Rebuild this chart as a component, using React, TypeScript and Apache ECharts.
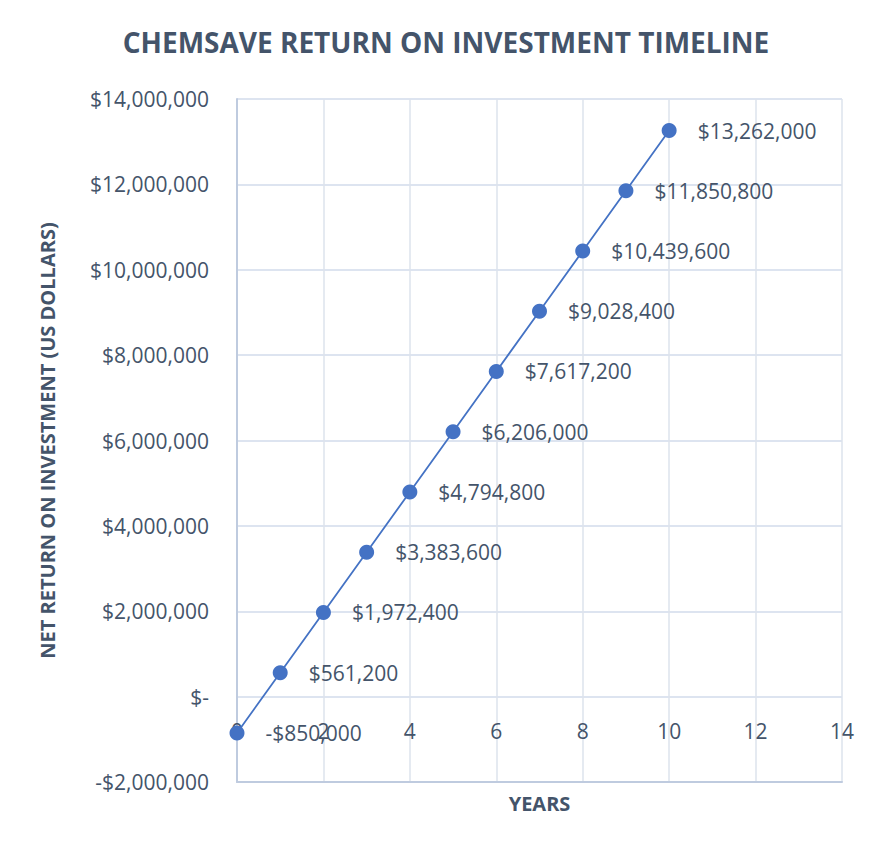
import React, { useEffect, useRef } from "react";
import * as echarts from "echarts";

const years = [0, 1, 2, 3, 4, 5, 6, 7, 8, 9, 10];
const netReturn = [-850000, 561200, 1972400, 3383600, 4794800, 6206000, 7617200, 9028400, 10439600, 11850800, 13262000];
const titleText = "CHEMSAVE RETURN ON INVESTMENT TIMELINE";
const yAxisTitle = "NET RETURN ON INVESTMENT (US DOLLARS)";
const xAxisTitle = "YEARS";

const TEXT = "#44546A";
const BLUE = "#4472C4";
const FONT = "'Open Sans', 'Noto Sans', sans-serif";

function money(v: number): string {
  if (v === 0) return "$-";
  const s = Math.abs(v).toLocaleString("en-US");
  return (v < 0 ? "-$" : "$") + s;
}

export default function App() {
  const ref = useRef<HTMLDivElement>(null);
  useEffect(() => {
    if (!ref.current) return;
    const chart = echarts.init(ref.current, undefined, { renderer: "svg" });
    chart.setOption({
      animation: false,
      backgroundColor: "#ffffff",
      title: {
        text: titleText,
        left: "center",
        top: 20,
        textStyle: { fontFamily: FONT, fontSize: 28, fontWeight: "bold", color: TEXT },
      },
      grid: { left: 231, right: 44, top: 96, bottom: 68 },
      xAxis: {
        type: "value",
        min: 0,
        max: 14,
        interval: 2,
        name: xAxisTitle,
        nameLocation: "middle",
        nameGap: 11,
        nameTextStyle: { fontFamily: FONT, fontSize: 20, fontWeight: "bold", color: TEXT, verticalAlign: "top" },
        axisLine: { onZero: false, show: true, lineStyle: { color: "#BFCBDF", width: 2 } },
        axisTick: { show: false },
        axisLabel: { margin: -62, fontFamily: FONT, fontSize: 21, color: TEXT },
        splitLine: { show: true, lineStyle: { color: "#DDE3EC", width: 1.5 } },
      },
      yAxis: {
        type: "value",
        min: -2000000,
        max: 14000000,
        interval: 2000000,
        name: yAxisTitle,
        nameLocation: "middle",
        nameGap: 180,
        nameRotate: 90,
        nameTextStyle: { fontFamily: FONT, fontSize: 20, fontWeight: "bold", color: TEXT },
        axisLine: { show: true, lineStyle: { color: "#BFCBDF", width: 2 } },
        axisTick: { show: false },
        axisLabel: { margin: 28, fontFamily: FONT, fontSize: 21, color: TEXT, formatter: (v: number) => money(v) },
        splitLine: { show: true, lineStyle: { color: "#D2DBEB", width: 1.5 } },
      },
      series: [
        {
          type: "line",
          data: years.map((y, i) => [y, netReturn[i]]),
          symbol: "circle",
          symbolSize: 15,
          itemStyle: { color: BLUE },
          lineStyle: { color: BLUE, width: 1.8 },
          label: {
            show: true,
            position: "right",
            distance: 21,
            fontFamily: FONT,
            fontSize: 21,
            color: TEXT,
            formatter: (p: any) => money(p.value[1]),
          },
        },
      ],
    });
    return () => chart.dispose();
  }, []);
  return (
    <div style={{ margin: -8, width: 893, height: 850, background: "#E9E9E9", position: "relative", overflow: "hidden" }}>
      <div ref={ref} style={{ position: "absolute", left: 6, top: 3, width: 880, height: 847 }} />
    </div>
  );
}
